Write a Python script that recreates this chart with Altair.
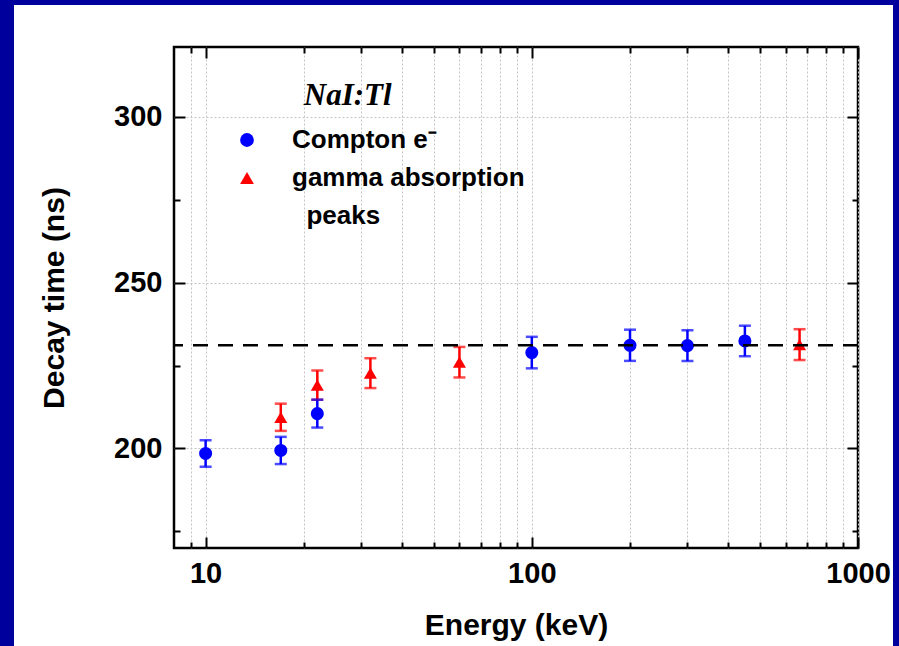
import altair as alt
import pandas as pd

# ---- data ----
compton_E = [10, 17, 22, 100, 200, 300, 450]
compton_tau = [198.5, 199.4, 210.5, 228.9, 231.1, 231.0, 232.4]
compton_err = [4.0, 4.1, 4.2, 4.75, 4.7, 4.65, 4.6]

gamma_E = [17, 22, 32, 60, 662]
gamma_tau = [209.4, 219.1, 222.7, 226.0, 231.3]
gamma_err = [4.1, 4.4, 4.5, 4.6, 4.65]

mean_tau = [231.1]

series_names = ["Compton e\u207b", "gamma absorption peaks"]
legend_cont = "\u200b\u00a0\u00a0peaks"
series_colors = ["#0000FF", "#FF0000", "transparent"]
series_shapes = ["circle", "triangle-up", "circle"]

x_major = [10, 100, 1000]
x_ticks = [9, 10, 20, 30, 40, 50, 60, 70, 80, 90, 100,
           200, 300, 400, 500, 600, 700, 800, 900, 1000]
y_major = [200, 250, 300]
y_ticks = [175, 200, 225, 250, 275, 300]

rows = []
for e, t, s in zip(compton_E, compton_tau, compton_err):
    rows.append({"E": e, "tau": t, "lo": t - s, "hi": t + s, "series": series_names[0]})
for e, t, s in zip(gamma_E, gamma_tau, gamma_err):
    rows.append({"E": e, "tau": t, "lo": t - s, "hi": t + s, "series": series_names[1]})
df = pd.DataFrame(rows)

W, H = 684, 501
BORDER = "#00009C"
SANS = "Liberation Sans"

xscale = alt.Scale(type="log", domain=[8, 1000], nice=False)
yscale = alt.Scale(domain=[170, 321], nice=False, zero=False)
cscale = alt.Scale(domain=series_names + [legend_cont], range=series_colors)
sscale = alt.Scale(domain=series_names + [legend_cont], range=series_shapes)

x_major_test = "indexof([10,100,1000], datum.value) >= 0"
y_major_test = "indexof([200,250,300], datum.value) >= 0"

ax_x_labels = alt.Axis(
    orient="bottom", values=x_ticks,
    labelExpr="indexof([10,100,1000], datum.value) >= 0 ? format(datum.value, 'd') : ''",
    labelOverlap=False, labelFlush=False, ticks=False, tickSize=0, domain=False,
    grid=True, gridColor="#c4c4c4", gridDash=[2, 2], gridWidth=1,
    labelFont=SANS, labelFontSize=29, labelFontWeight="bold", labelColor="black",
    labelPadding=11,
    title="Energy (keV)", titleFont=SANS, titleFontSize=30, titleFontWeight="bold",
    titleColor="black", titlePadding=22,
)
ax_y_labels = alt.Axis(
    orient="left", values=y_major, ticks=False, tickSize=0, domain=False,
    grid=True, gridColor="#c4c4c4", gridDash=[2, 2], gridWidth=1,
    labelFont=SANS, labelFontSize=29, labelFontWeight="bold", labelColor="black",
    labelPadding=12,
    title="Decay time (ns)", titleFont=SANS, titleFontSize=30, titleFontWeight="bold",
    titleColor="black", titlePadding=44,
)

def tick_axis(orient, offset, values, test):
    return alt.Axis(
        orient=orient, offset=offset, values=values, labels=False, domain=False,
        grid=False, title=None, ticks=True, tickColor="black", tickWidth=2,
        tickSize={"condition": {"test": test, "value": 11}, "value": 6},
    )

ax_x_bottom_in = tick_axis("top", -H, x_ticks, x_major_test)
ax_x_top_in = tick_axis("bottom", -H, x_ticks, x_major_test)
ax_y_left_in = tick_axis("right", -W, y_ticks, y_major_test)
ax_y_right_in = tick_axis("left", -W, y_ticks, y_major_test)

legend = alt.Legend(
    orient="none", legendX=60, legendY=34, padding=0,
    title="\u200b" + "\u00a0" * 9 + "NaI:Tl", titleFont="Liberation Serif", titleFontSize=31,
    titleFontStyle="italic", titleFontWeight="bold", titleColor="black",
    titlePadding=15, titleLimit=400,
    labelFont=SANS, labelFontSize=26, labelFontWeight="bold", labelColor="black",
    labelLimit=500, labelOffset=32, rowPadding=12,
    symbolSize=190, symbolStrokeWidth=0, symbolOpacity=1,
    labelExpr="datum.value == 'gamma absorption peaks' ? 'gamma absorption' : datum.value",
)

color_enc = alt.Color("series:N", scale=cscale, legend=legend)
shape_enc = alt.Shape("series:N", scale=sscale, legend=legend)

base = alt.Chart(df)

bars = base.mark_rule(strokeWidth=2.5).encode(
    x=alt.X("E:Q", scale=xscale, axis=ax_x_labels),
    y=alt.Y("lo:Q", scale=yscale, axis=ax_y_labels),
    y2="hi:Q",
    color=color_enc,
)
caps_lo = base.mark_tick(orient="horizontal", size=12, thickness=2.5).encode(
    x=alt.X("E:Q", scale=xscale, axis=ax_x_bottom_in),
    y=alt.Y("lo:Q", scale=yscale, axis=ax_y_left_in),
    color=color_enc,
)
caps_hi = base.mark_tick(orient="horizontal", size=12, thickness=2.5).encode(
    x=alt.X("E:Q", scale=xscale, axis=ax_x_top_in),
    y=alt.Y("hi:Q", scale=yscale, axis=ax_y_right_in),
    color=color_enc,
)
points = base.mark_point(filled=True, size=170, opacity=1).encode(
    x=alt.X("E:Q", scale=xscale, axis=None),
    y=alt.Y("tau:Q", scale=yscale, axis=None),
    color=color_enc,
    shape=shape_enc,
)

mean_line = alt.Chart(pd.DataFrame({"tau": mean_tau})).mark_rule(
    color="black", strokeWidth=2.5, strokeDash=[15, 10]
).encode(y=alt.Y("tau:Q", scale=yscale, axis=None))

one = pd.DataFrame({"k": [0]})
left_strip = alt.Chart(one).mark_rect(color=BORDER).encode(
    x=alt.value(-174), x2=alt.value(-160), y=alt.value(-47), y2=alt.value(600))
top_strip = alt.Chart(one).mark_rect(color=BORDER).encode(
    x=alt.value(-174), x2=alt.value(725), y=alt.value(-47), y2=alt.value(-42))
right_strip = alt.Chart(one).mark_rect(color=BORDER).encode(
    x=alt.value(719), x2=alt.value(725), y=alt.value(-47), y2=alt.value(600))

chart = alt.layer(
    bars, caps_lo, caps_hi, points, mean_line, left_strip, top_strip, right_strip
).resolve_axis(
    x="independent", y="independent"
).properties(
    width=W, height=H,
    autosize=alt.AutoSizeParams(type="none"),
    padding={"left": 174, "top": 47, "right": 41, "bottom": 98},
    background="white",
).configure_view(
    stroke="black", strokeWidth=2.5
)

chart.save("out.html", embed_options={"renderer": "svg", "actions": False})
